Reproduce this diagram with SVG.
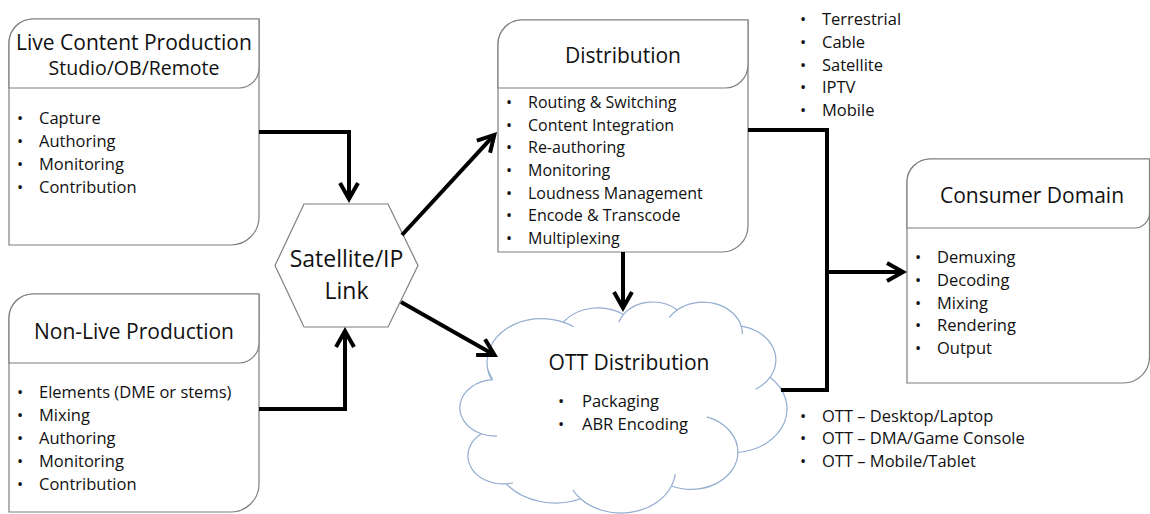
<svg xmlns="http://www.w3.org/2000/svg" width="1150" height="514" viewBox="0 0 1150 514">
<style>
.box{fill:#ffffff;stroke:#7f7f7f;stroke-width:1.2}
.hdr{fill:#ffffff;stroke:#7f7f7f;stroke-width:1.2}
.t{font-family:"Open Sans","Liberation Sans",sans-serif;fill:#111111}
.title{font-size:21px;text-anchor:middle}
.sub{font-size:19.5px;text-anchor:middle}
.li{font-size:16.5px}
.lis{font-size:16px}
.hex{font-size:23px;text-anchor:middle}
.conn{fill:none;stroke:#000000;stroke-width:4;stroke-linejoin:miter}
.cloud{fill:#ffffff;stroke:#93acd0;stroke-width:1.2}
.cin{fill:none;stroke:#93acd0;stroke-width:1.2}
</style>
<defs>
<marker id="arr" viewBox="-22 -14 30 28" refX="0" refY="0" markerWidth="30" markerHeight="28" markerUnits="userSpaceOnUse" orient="auto" overflow="visible">
<path d="M-16,-9 L0,0 L-16,9" fill="none" stroke="#000000" stroke-width="4" stroke-linejoin="miter"/>
</marker>
</defs>
<rect width="1150" height="514" fill="#ffffff"/>

<g id="live">
<path class="box" d="M9,43 A24,24 0 0 1 33,19 H259 V217 A28,28 0 0 1 231,245 H9 Z"/>
<path class="hdr" d="M9,43 A24,24 0 0 1 33,19 H259 V68 A20,20 0 0 1 239,88 H9 Z"/>
<text class="t title" x="134" y="50">Live Content Production</text>
<text class="t sub" x="134" y="75">Studio/OB/Remote</text>
<g class="t li">
<text x="17" y="124">•</text><text x="39" y="124">Capture</text>
<text x="17" y="147">•</text><text x="39" y="147">Authoring</text>
<text x="17" y="170">•</text><text x="39" y="170">Monitoring</text>
<text x="17" y="193">•</text><text x="39" y="193">Contribution</text>
</g>
</g>

<g id="nonlive">
<path class="box" d="M9,318 A24,24 0 0 1 33,294 H259 V484 A28,28 0 0 1 231,512 H9 Z"/>
<path class="hdr" d="M9,318 A24,24 0 0 1 33,294 H259 V343 A20,20 0 0 1 239,363 H9 Z"/>
<text class="t title" x="134" y="339">Non-Live Production</text>
<g class="t li">
<text x="17" y="398">•</text><text x="39" y="398">Elements (DME or stems)</text>
<text x="17" y="421">•</text><text x="39" y="421">Mixing</text>
<text x="17" y="444">•</text><text x="39" y="444">Authoring</text>
<text x="17" y="467">•</text><text x="39" y="467">Monitoring</text>
<text x="17" y="490">•</text><text x="39" y="490">Contribution</text>
</g>
</g>

<g id="link">
<polygon class="box" points="304,204 388,204 418,265.5 388,327 304,327 275,265.5"/>
<text class="t hex" x="346.5" y="267">Satellite/IP</text>
<text class="t hex" x="346.5" y="299">Link</text>
</g>

<g id="distribution">
<path class="box" d="M498,44 A24,24 0 0 1 522,20 H748 V226 A26,26 0 0 1 722,252 H498 Z"/>
<path class="hdr" d="M498,44 A24,24 0 0 1 522,20 H748 V65 A23,23 0 0 1 725,88 H498 Z"/>
<text class="t title" x="623" y="63">Distribution</text>
<g class="t lis">
<text x="506" y="108">•</text><text x="528" y="108">Routing &amp; Switching</text>
<text x="506" y="130.7">•</text><text x="528" y="130.7">Content Integration</text>
<text x="506" y="153.3">•</text><text x="528" y="153.3">Re-authoring</text>
<text x="506" y="176">•</text><text x="528" y="176">Monitoring</text>
<text x="506" y="198.7">•</text><text x="528" y="198.7">Loudness Management</text>
<text x="506" y="221.3">•</text><text x="528" y="221.3">Encode &amp; Transcode</text>
<text x="506" y="244">•</text><text x="528" y="244">Multiplexing</text>
</g>
</g>

<g id="ott">
<path class="cloud" d="M487.9,370.1 A54.67,43.61 0 0 1 563.2,322.1 A43.18,34.48 0 0 1 623.5,314.4 A35.34,28.21 0 0 1 677.2,309.9 A39.32,31.29 0 0 1 741.2,326.1 A43.18,34.51 0 0 1 770.0,377.3 A54.85,43.75 0 0 1 737.9,452.5 A46.84,37.33 0 0 1 671.5,486.0 A54.66,43.73 0 0 1 580.6,498.8 A62.50,50.03 0 0 1 506.2,483.8 A35.30,28.08 0 0 1 481.3,433.8 A35.18,28.21 0 0 1 492.5,379.7 Z"/>
<path class="cin" d="M491.07,378.73 A54.67,43.61 0 0 1 487.87,370.09 M563.2,322.1 A54.67,43.61 0 0 1 573.46,326.69 M618.86,322.19 A35.34,28.21 0 0 1 623.5,314.4 M669.26,317.48 A39.32,31.29 0 0 1 677.2,309.9 M741.2,326.1 A39.32,31.29 0 0 1 742.34,334.11 M770.0,377.3 A43.18,34.51 0 0 1 755.6,389.2 M706.84,416.92 A46.84,37.33 0 0 1 737.9,452.5 M675.29,474.19 A54.66,43.73 0 0 1 671.5,486.0 M580.6,498.8 A54.66,43.73 0 0 1 572.85,490.01 M513.13,482.77 A35.30,28.08 0 0 1 506.2,483.8 M497.18,435.99 A35.18,28.21 0 0 1 481.3,433.8"/>
<text class="t title" x="629" y="370">OTT Distribution</text>
<g class="t li">
<text x="558" y="407">•</text><text x="582" y="407">Packaging</text>
<text x="558" y="430">•</text><text x="582" y="430">ABR Encoding</text>
</g>
</g>

<g id="consumer">
<path class="box" d="M907,182 A23,23 0 0 1 930,159 H1149.5 V357 A26,26 0 0 1 1123.5,383 H907 Z"/>
<path class="hdr" d="M907,182 A23,23 0 0 1 930,159 H1149.5 V213 A15,15 0 0 1 1134.5,228 H907 Z"/>
<text class="t title" x="1032" y="203">Consumer Domain</text>
<g class="t li">
<text x="915" y="263">•</text><text x="937" y="263">Demuxing</text>
<text x="915" y="286">•</text><text x="937" y="286">Decoding</text>
<text x="915" y="309">•</text><text x="937" y="309">Mixing</text>
<text x="915" y="331">•</text><text x="937" y="331">Rendering</text>
<text x="915" y="354">•</text><text x="937" y="354">Output</text>
</g>
</g>

<g id="broadcast-list" class="t li">
<text x="800" y="25">•</text><text x="822" y="25">Terrestrial</text>
<text x="800" y="48">•</text><text x="822" y="48">Cable</text>
<text x="800" y="71">•</text><text x="822" y="71">Satellite</text>
<text x="800" y="93">•</text><text x="822" y="93">IPTV</text>
<text x="800" y="116">•</text><text x="822" y="116">Mobile</text>
</g>

<g id="ott-list" class="t li">
<text x="800" y="422">•</text><text x="822" y="422">OTT – Desktop/Laptop</text>
<text x="800" y="444">•</text><text x="822" y="444">OTT – DMA/Game Console</text>
<text x="800" y="467">•</text><text x="822" y="467">OTT – Mobile/Tablet</text>
</g>

<g id="connectors">
<path class="conn" d="M259,132 H349 V199" marker-end="url(#arr)"/>
<path class="conn" d="M259,409 H345 V331" marker-end="url(#arr)"/>
<path class="conn" d="M402,235 L494.3,134.9" marker-end="url(#arr)"/>
<path class="conn" d="M401,302 L494.5,355" marker-end="url(#arr)"/>
<path class="conn" d="M623,252 V308" marker-end="url(#arr)"/>
<path class="conn" d="M748,130 H827 V390 H781"/>
<path class="conn" d="M827,272 H903" marker-end="url(#arr)"/>
</g>
</svg>
